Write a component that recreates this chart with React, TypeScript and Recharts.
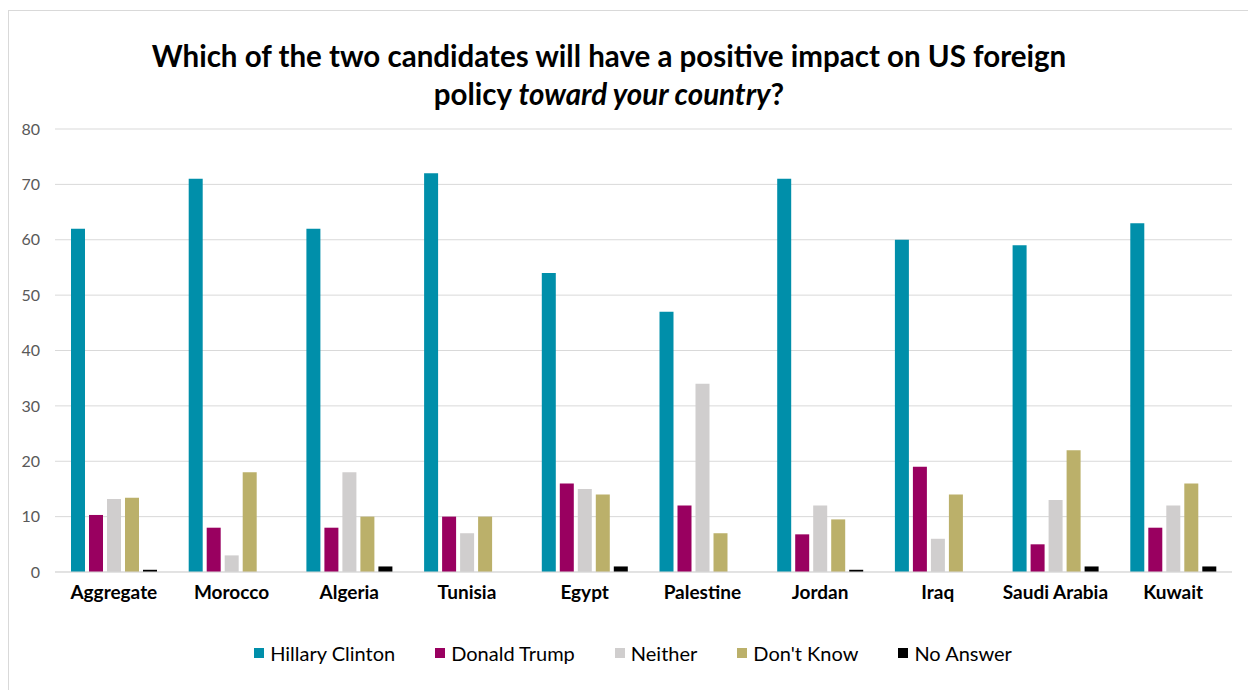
import React from 'react';
import { BarChart, Bar, XAxis, YAxis, CartesianGrid } from 'recharts';

const categories = ['Aggregate', 'Morocco', 'Algeria', 'Tunisia', 'Egypt', 'Palestine', 'Jordan', 'Iraq', 'Saudi Arabia', 'Kuwait'];
const hillary = [62, 71, 62, 72, 54, 47, 71, 60, 59, 63];
const trump = [10.3, 8, 8, 10, 16, 12, 6.8, 19, 5, 8];
const neither = [13.2, 3, 18, 7, 15, 34, 12, 6, 13, 12];
const dontKnow = [13.4, 18, 10, 10, 14, 7, 9.5, 14, 22, 16];
const noAnswer = [0.4, 0, 1, 0, 1, 0, 0.4, 0, 1, 1];
const yTicks = [0, 10, 20, 30, 40, 50, 60, 70, 80];

const seriesKeys = ['hillary', 'trump', 'neither', 'dontKnow', 'noAnswer'];
const seriesNames = ['Hillary Clinton', 'Donald Trump', 'Neither', "Don't Know", 'No Answer'];
const seriesColors = ['#008FAA', '#990060', '#D0CECE', '#BBB06A', '#000000'];
const seriesValues = [hillary, trump, neither, dontKnow, noAnswer];

const data = categories.map((c, i) => {
  const row: any = { name: c };
  seriesKeys.forEach((k, j) => { row[k] = seriesValues[j][i]; });
  return row;
});

const FONT = 'Lato, "Open Sans", sans-serif';

export default function App() {
  return (
    <div style={{ position: 'absolute', left: 0, top: 0, width: 1248, height: 690, background: '#fff', fontFamily: FONT }}>
      <div style={{ position: 'absolute', left: 8, top: 10, width: 1240, height: 690, borderLeft: '1px solid #D9D9D9', borderTop: '1px solid #D9D9D9', boxSizing: 'border-box' }} />
      <div style={{ position: 'absolute', left: 0, top: 37, width: 1218, textAlign: 'center', fontWeight: 700, fontSize: 29.5, lineHeight: '38px', color: '#000' }}>
        <div>Which of the two candidates will have a positive impact on US foreign</div>
        <div>policy <i>toward your country</i>?</div>
      </div>
      <div style={{ position: 'absolute', left: 0, top: 0 }}>
        <BarChart
          width={1248}
          height={690}
          data={data}
          margin={{ top: 129, right: 16, left: 15, bottom: 88 }}
          barSize={14}
          barGap={4}
        >
          <CartesianGrid vertical={false} stroke="#D9D9D9" strokeWidth={1} />
          <XAxis
            dataKey="name"
            height={30}
            axisLine={{ stroke: '#D9D9D9' }}
            tickLine={false}
            tickSize={6}
            tickMargin={8}
            interval={0}
            tick={{ fill: '#000', fontSize: 19, fontWeight: 700, fontFamily: FONT }}
          />
          <YAxis
            width={40}
            domain={[0, 80]}
            ticks={yTicks}
            axisLine={false}
            tickLine={false}
            tickSize={6}
            tickMargin={9}
            tick={{ fill: '#595959', fontSize: 16, fontFamily: FONT }}
          />
          {seriesKeys.map((k, j) => (
            <Bar key={k} dataKey={k} name={seriesNames[j]} fill={seriesColors[j]} isAnimationActive={false} />
          ))}
        </BarChart>
      </div>
      <div style={{ position: 'absolute', left: 0, top: 642, width: 1248, display: 'flex', justifyContent: 'center', paddingLeft: 18, boxSizing: 'border-box' }}>
        {seriesNames.map((n, j) => (
          <div key={n} style={{ display: 'flex', alignItems: 'center', marginRight: j < seriesNames.length - 1 ? 40 : 0 }}>
            <div style={{ width: 10, height: 10, background: seriesColors[j], marginRight: 6 }} />
            <span style={{ fontSize: 20, color: '#000', lineHeight: '22px' }}>{n}</span>
          </div>
        ))}
      </div>
    </div>
  );
}
